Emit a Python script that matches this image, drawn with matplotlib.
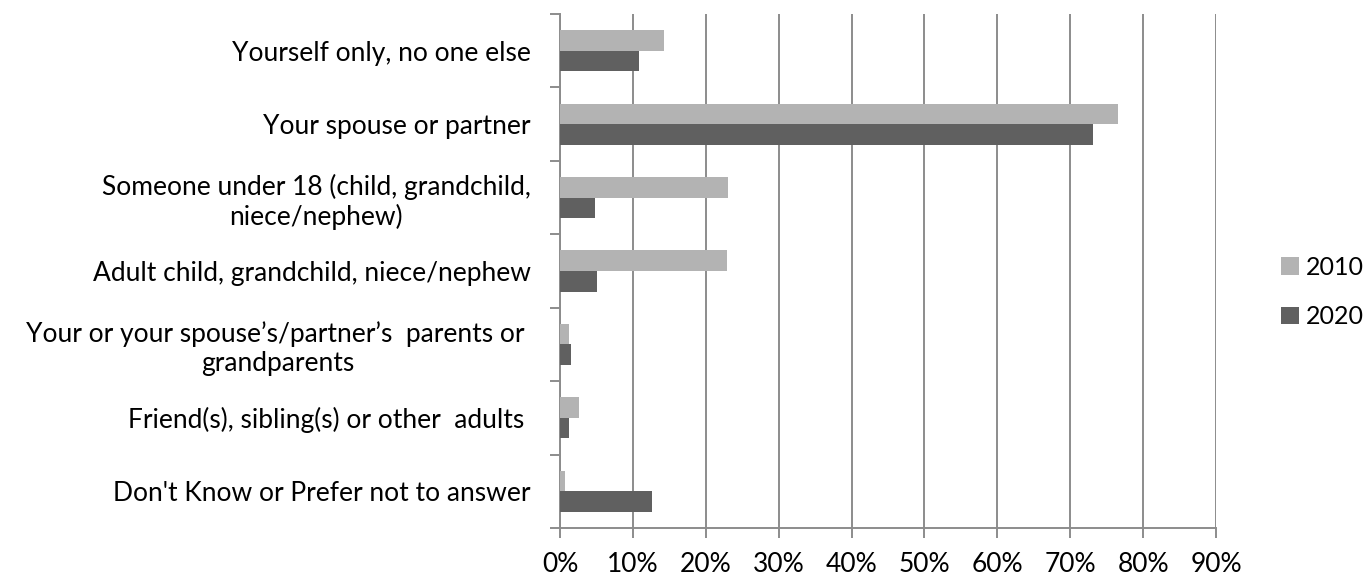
import matplotlib
matplotlib.use("Agg")
import matplotlib.pyplot as plt
import numpy as np
from matplotlib.patches import Patch

categories = [
    "Yourself only, no one else",
    "Your spouse or partner",
    "Someone under 18 (child, grandchild,\nniece/nephew)",
    "Adult child, grandchild, niece/nephew",
    "Your or your spouse\u2019s/partner\u2019s  parents or \ngrandparents",
    "Friend(s), sibling(s) or other  adults ",
    "Don't Know or Prefer not to answer",
]
series_names = ["2010", "2020"]
values_2010 = [14.3, 76.5, 23.1, 22.9, 1.3, 2.6, 0.7]
values_2020 = [10.8, 73.1, 4.8, 5.1, 1.5, 1.2, 12.6]
x_ticks = [0, 10, 20, 30, 40, 50, 60, 70, 80, 90]
x_tick_labels = [f"{t}%" for t in x_ticks]

c2010 = "#b3b3b3"
c2020 = "#606060"
grid_c = "#8c8c8c"

plt.rcParams["font.family"] = ["Lato", "DejaVu Sans"]
FS = 19

W, H = 1369, 578
fig = plt.figure(figsize=(W / 100, H / 100), dpi=100)
ax = fig.add_axes([560 / W, 1 - 528 / H, (1216 - 560) / W, (528 - 14) / H])

y = np.arange(len(categories))
bh = 0.28
ax.barh(y - bh / 2, values_2010, height=bh, color=c2010, label=series_names[0], zorder=3)
ax.barh(y + bh / 2, values_2020, height=bh, color=c2020, label=series_names[1], zorder=3)

ax.set_xlim(0, 90)
ax.set_ylim(len(categories) - 0.5, -0.5)
ax.set_xticks(x_ticks)
ax.set_xticklabels(x_tick_labels, fontsize=FS)
ax.set_yticks(y)
ax.set_yticklabels(categories, fontsize=FS)
for lbl in ax.get_yticklabels():
    lbl.set_multialignment("center")
ax.set_yticks(np.arange(-0.5, len(categories) + 0.5, 1), minor=True)
ax.tick_params(axis="y", which="major", length=0, pad=21)
ax.tick_params(axis="y", which="minor", length=7, width=1.4, color=grid_c, direction="out")
ax.tick_params(axis="x", which="major", length=7, width=1.4, color=grid_c, direction="out", pad=10)

ax.grid(axis="x", color=grid_c, linewidth=1.4, zorder=0)
for s in ["top", "right"]:
    ax.spines[s].set_visible(False)
for s in ["left", "bottom"]:
    ax.spines[s].set_color(grid_c)
    ax.spines[s].set_linewidth(1.4)

handles = [Patch(facecolor=c2010, label=series_names[0]),
           Patch(facecolor=c2020, label=series_names[1])]
fig.legend(handles=handles, loc="center left", bbox_to_anchor=(1281 / W, 1 - 292 / H),
           frameon=False, fontsize=18, handlelength=0.7, handleheight=0.7,
           handletextpad=0.3, labelspacing=1.05, borderaxespad=0, borderpad=0)

fig.savefig("out.png", dpi=100)
